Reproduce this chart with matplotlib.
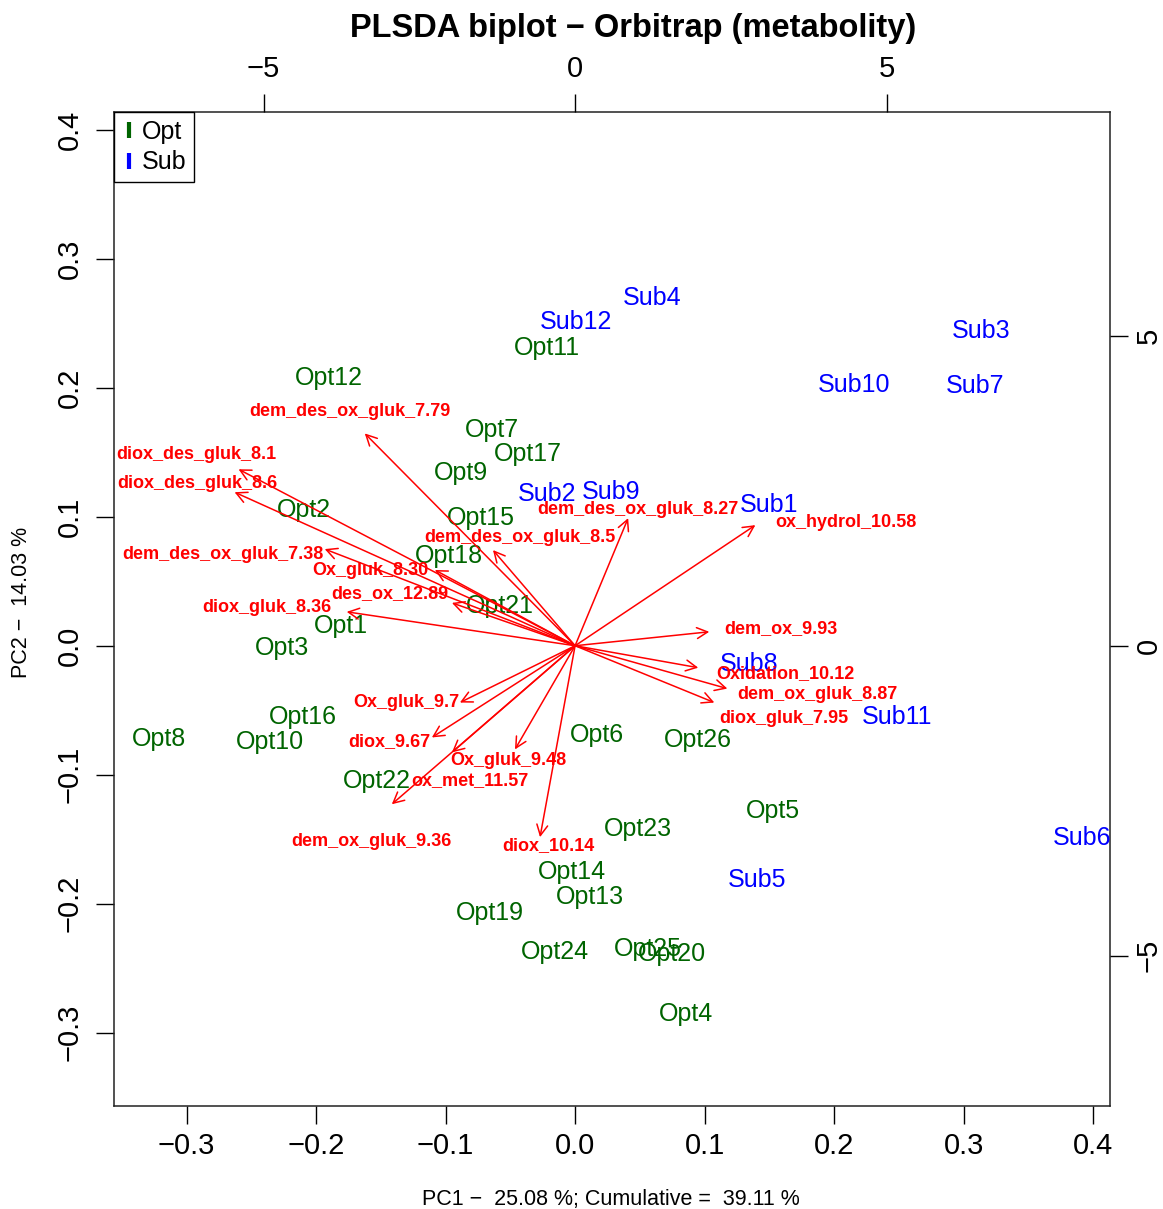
import numpy as np
import matplotlib
matplotlib.use('Agg')
import matplotlib.pyplot as plt
from matplotlib.lines import Line2D

plt.rcParams['font.family'] = ['Liberation Sans', 'DejaVu Sans']

# sample scores (PC1, PC2)
sample_names = ['Sub4', 'Sub12', 'Opt11', 'Sub3', 'Sub10', 'Sub7', 'Opt12', 'Opt7', 'Opt17', 'Opt9',
                'Sub2', 'Sub9', 'Opt2', 'Opt15', 'Sub1', 'Opt18', 'Opt21', 'Opt1', 'Opt3', 'Sub8',
                'Sub11', 'Opt16', 'Opt8', 'Opt10', 'Opt6', 'Opt26', 'Opt22', 'Opt5', 'Sub6', 'Opt23',
                'Opt14', 'Sub5', 'Opt13', 'Opt19', 'Opt24', 'Opt25', 'Opt20', 'Opt4']
pc1 = [0.0595, 0.0008, -0.0216, 0.3135, 0.2154, 0.3089, -0.190, -0.064, -0.0363, -0.088,
       -0.0216, 0.0278, -0.209, -0.0726, 0.1498, -0.0973, -0.0579, -0.1807, -0.2263, 0.1344,
       0.2486, -0.210, -0.3212, -0.2355, 0.017, 0.095, -0.1529, 0.1529, 0.3915, 0.0486,
       -0.0023, 0.1405, 0.0116, -0.0656, -0.0154, 0.0564, 0.0749, 0.0857]
pc2 = [0.272, 0.253, 0.2326, 0.2457, 0.2039, 0.2031, 0.2093, 0.169, 0.1504, 0.1357,
       0.1194, 0.1209, 0.107, 0.1008, 0.1109, 0.0713, 0.0326, 0.0171, 0.0, -0.0124,
       -0.0535, -0.0535, -0.0705, -0.0729, -0.0674, -0.0713, -0.1031, -0.1264, -0.1473, -0.1403,
       -0.1736, -0.1798, -0.193, -0.2054, -0.2357, -0.2333, -0.2372, -0.2837]
groups = ['Opt', 'Sub']
group_colors = {'Opt': '#006400', 'Sub': '#0000FF'}

# variable loadings (arrow tips) and where their labels sit
var_names = ['dem_des_ox_gluk_7.79', 'diox_des_gluk_8.1', 'diox_des_gluk_8.6', 'dem_des_ox_gluk_7.38',
             'Ox_gluk_8.30', 'des_ox_12.89', 'diox_gluk_8.36', 'dem_des_ox_gluk_8.5',
             'dem_des_ox_gluk_8.27', 'ox_hydrol_10.58', 'dem_ox_9.93', 'Oxidation_10.12',
             'dem_ox_gluk_8.87', 'diox_gluk_7.95', 'Ox_gluk_9.7', 'diox_9.67',
             'Ox_gluk_9.48', 'ox_met_11.57', 'dem_ox_gluk_9.36', 'diox_10.14']
load1 = [-3.376, -5.402, -5.466, -4.019, -2.251, -1.977, -3.666, -1.318,
         0.852, 2.894, 2.154, 1.977, 2.444, 2.235, -1.849, -2.299,
         -0.965, -1.977, -2.942, -0.563]
load2 = [3.424, 2.846, 2.476, 1.559, 1.222, 0.691, 0.547, 1.543,
         2.058, 1.945, 0.225, -0.354, -0.691, -0.916, -0.916, -1.479,
         -1.672, -1.720, -2.556, -3.087]
lab1 = [-3.617, -6.077, -6.061, -5.659, -3.280, -2.974, -4.952, -0.884,
        1.013, 4.341, 3.296, 3.376, 3.891, 3.344, -2.717, -2.974,
        -1.077, -1.688, -3.264, -0.434]
lab2 = [3.778, 3.087, 2.621, 1.479, 1.206, 0.836, 0.611, 1.752,
        2.203, 1.994, 0.273, -0.450, -0.788, -1.174, -0.916, -1.543,
        -1.849, -2.170, -3.151, -3.215]

title = 'PLSDA biplot \u2212 Orbitrap (metabolity)'
xlab = 'PC1 \u2212  25.08 %; Cumulative =  39.11 %'
ylab = 'PC2 \u2212  14.03 %'

W, H = 1163, 1209
fig = plt.figure(figsize=(W / 100, H / 100), dpi=100)
rect = [114 / W, 1 - 1106 / H, (1110 - 114) / W, (1106 - 112) / H]
ax = fig.add_axes(rect)
ax.set_xlim(-0.356, 0.413)
ax.set_ylim(-0.357, 0.414)

# secondary scale for the loadings
r = 0.0481
ax2 = fig.add_axes(rect, frameon=False)
ax2.set_xlim(np.array(ax.get_xlim()) / r)
ax2.set_ylim(np.array(ax.get_ylim()) / r)
ax2.xaxis.tick_top()
ax2.yaxis.tick_right()

# samples
for name, x, y in zip(sample_names, pc1, pc2):
    g = name[:3]
    ax.text(x, y, name, color=group_colors[g], fontsize=18, ha='center', va='center_baseline')

# loadings arrows
for name, u, v, lx, ly in zip(var_names, load1, load2, lab1, lab2):
    ax2.annotate('', xy=(u, v), xytext=(0, 0),
                 arrowprops=dict(arrowstyle='->,head_length=0.55,head_width=0.28',
                                 color='red', lw=1.1, shrinkA=0, shrinkB=0, mutation_scale=14))
    ax2.text(lx, ly, name, color='red', fontsize=13, fontweight='bold', ha='center', va='center')

# axes / ticks
ax.set_xticks(np.arange(-0.3, 0.41, 0.1))
ax.set_yticks(np.arange(-0.3, 0.41, 0.1))
ax2.set_xticks([-5, 0, 5])
ax2.set_yticks([-5, 0, 5])
ax.tick_params(axis='both', labelsize=21, length=13, width=1, direction='out')
ax.tick_params(axis='x', pad=6)
ax.tick_params(axis='y', pad=9, labelrotation=90)
ax2.tick_params(axis='both', labelsize=21, length=13, width=1, direction='out')
ax2.tick_params(axis='x', pad=8)
ax2.tick_params(axis='y', pad=5, labelrotation=90)
plt.setp(ax.get_yticklabels(), va='center')
plt.setp(ax2.get_yticklabels(), va='center')
for s in ax.spines.values():
    s.set_linewidth(1.1)
    s.set_color('#222222')

# legend
handles = [Line2D([], [], marker='|', linestyle='None', color=group_colors[g],
                  markersize=11, markeredgewidth=3) for g in groups]
leg = ax.legend(handles, groups, loc='upper left', borderaxespad=0, fontsize=18,
                fancybox=False, edgecolor='black', framealpha=1, handlelength=0.6,
                handletextpad=0.22, borderpad=0.3, labelspacing=0.27)
leg.get_frame().set_linewidth(1.0)

fig.text(633 / W, 1 - 28 / H, title, fontsize=23.5, fontweight='bold', ha='center', va='center')
fig.text(611 / W, 1 - 1199 / H, xlab, fontsize=15.5, ha='center', va='center')
fig.text(22 / W, 1 - 602 / H, ylab, fontsize=15.5, ha='center', va='center', rotation=90)

fig.savefig('out.png', dpi=100)
